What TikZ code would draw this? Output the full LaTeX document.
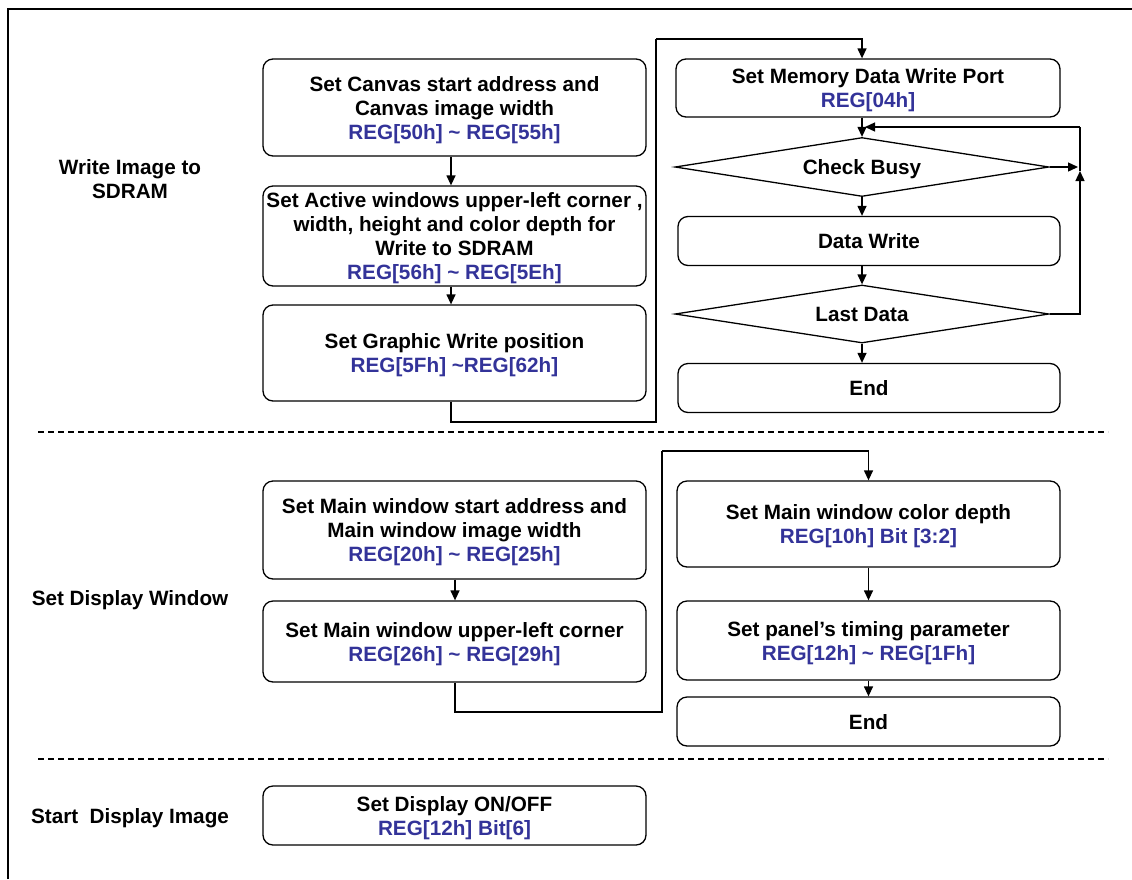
\documentclass[tikz,border=0pt]{standalone}
\usepackage{fontspec}
\setmainfont{Liberation Sans}
\usetikzlibrary{shapes.geometric,arrows.meta}
\definecolor{regblue}{RGB}{51,51,153}
\newcommand\rg[1]{\textcolor{regblue}{#1}}
\newcommand\tld{\textasciitilde}
\begin{document}
\begin{tikzpicture}[x=1pt,y=-1pt,
  txt/.style={font=\fontsize{20.7}{24}\selectfont\bfseries, align=center},
  box/.style={txt, text depth=0pt, draw, rounded corners=10pt, line width=1.3pt, inner sep=1pt},
  dia/.style={txt, text depth=0pt, draw, diamond, aspect=6.3, line width=1.3pt, inner sep=0pt},
  arr/.style={line width=1.3pt, -{Triangle[length=10pt,width=9pt]}},
  ln/.style={line width=1.3pt},
  sep/.style={line width=1.1pt, dash pattern=on 6pt off 4pt},
  lbl/.style={txt}]
\useasboundingbox (0,0) rectangle (1132,879);
\fill[white] (0,0) rectangle (1132,879);
% frame
\coordinate (f1) at (8,879);
\coordinate (f2) at (8,9);
\coordinate (f3) at (1132,9);
\draw[line width=1.2pt] (f1) -- (f2) -- (f3);

% section labels
\node[lbl] (L1) at (130,179) {Write Image to\\SDRAM};
\node[lbl] (L2) at (130,600) {Set Display Window};
\node[lbl] (L3) at (130,818) {Start\ \ Display Image};

% section 1 left column
\node[box, minimum width=383, minimum height=97] (A) at (454.5,107.5)
  {Set Canvas start address and\\Canvas image width\\\rg{REG[50h] \tld\ REG[55h]}};
\node[box, minimum width=383, minimum height=100] (B) at (454.5,236)
  {Set Active windows upper-left corner ,\\width, height and color depth for\\Write to SDRAM\\\rg{REG[56h] \tld\ REG[5Eh]}};
\node[box, minimum width=383, minimum height=96] (C) at (454.5,353)
  {Set Graphic Write position\\\rg{REG[5Fh] \tld REG[62h]}};
\draw[arr] (A.south -| 451,0) -- (B.north -| 451,0);
\draw[arr] (B.south -| 451,0) -- (C.north -| 451,0);

% section 1 right column
\node[box, minimum width=384, minimum height=58] (M) at (868,88)
  {Set Memory Data Write Port\\\rg{REG[04h]}};
\node[dia, minimum width=374, minimum height=59] (D1) at (862,167) {Check Busy};
\node[box, minimum width=382, minimum height=49] (DW) at (869,241) {Data Write};
\node[dia, minimum width=374, minimum height=58] (D2) at (862,314) {Last Data};
\node[box, minimum width=382, minimum height=49] (E1) at (869,388) {End};

\coordinate (j1) at (451,422);
\coordinate (j2) at (656,422);
\coordinate (j3) at (656,39);
\draw[ln] (C.south -| j1) -- (j1) -- (j2) -- (j3);
\draw[arr] (j3) -| (D1.north |- M.north);
\draw[arr] (D1.north |- M.south) -- (D1.north);
\draw[arr] (D1.south) -- (D1.south |- DW.north);
\draw[arr] (D1.south |- DW.south) -- (D2.north);
\draw[arr] (D2.south) -- (D2.south |- E1.north);
\coordinate (r1) at (1080,127);
\coordinate (r2) at (1080,314);
\coordinate (r3) at (1080,171);
\draw[arr] (D1.east) -- (1078,167);
\draw[arr] (D2.east) -- (r2) -- (r3);
\draw[ln] (r3) -- (r1);
\draw[arr] (r1) -- (865,127);

% separator 1
\draw[sep] (38,432) -- (1108,432);

% section 2 left
\node[box, minimum width=383, minimum height=98] (D) at (454.5,530)
  {Set Main window start address and\\Main window image width\\\rg{REG[20h] \tld\ REG[25h]}};
\node[box, minimum width=383, minimum height=81] (E) at (454.5,641.5)
  {Set Main window upper-left corner\\\rg{REG[26h] \tld\ REG[29h]}};
\draw[arr] (D.south -| 455,0) -- (E.north -| 455,0);

% section 2 right
\node[box, minimum width=383, minimum height=86] (F) at (868.5,524)
  {Set Main window color depth\\\rg{REG[10h] Bit [3:2]}};
\node[box, minimum width=383, minimum height=79] (G) at (868.5,640.5)
  {Set panel’s timing parameter\\\rg{REG[12h] \tld\ REG[1Fh]}};
\node[box, minimum width=383, minimum height=49] (H) at (868.5,721.5) {End};
\draw[arr] (F.south) -- (G.north);
\draw[arr] (G.south) -- (H.north);

\coordinate (k1) at (455,712);
\coordinate (k2) at (662,712);
\coordinate (k3) at (662,451);
\draw[ln] (E.south -| k1) -- (k1) -- (k2) -- (k3);
\draw[arr] (k3) -| (F.north);

% separator 2
\draw[sep] (38,759) -- (1108,759);

% section 3
\node[box, minimum width=383, minimum height=59] (I) at (454.5,815.5)
  {Set Display ON/OFF\\\rg{REG[12h] Bit[6]}};
\end{tikzpicture}
\end{document}
